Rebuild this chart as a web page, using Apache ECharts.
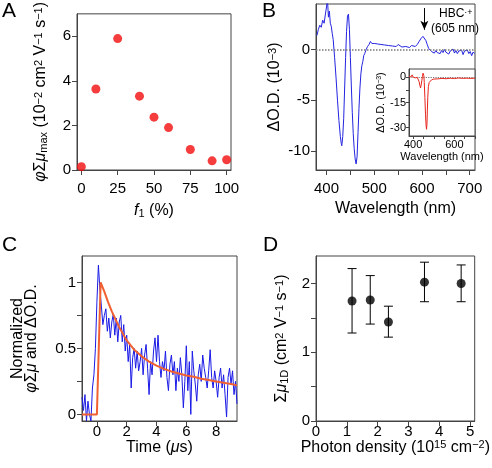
<!DOCTYPE html>
<html><head><meta charset="utf-8">
<script src="https://cdn.jsdelivr.net/npm/echarts@6/dist/echarts.min.js"></script>
<style>html,body{margin:0;padding:0;background:#fff}#c{width:492px;height:468px}</style>
</head><body><div id="c"></div>
<script>
const FONT = '"Liberation Sans", Arial, Helvetica, sans-serif';

// ---- Panel A ----
const aFraction = [0, 10, 25, 40, 50, 60, 75, 90, 100];
const aMobility = [0.15, 3.63, 5.89, 3.31, 2.37, 1.9, 0.92, 0.41, 0.46];
const aXTicks = [0, 25, 50, 75, 100];

// ---- Panel B (main) ----
const bWave = [380,383,386,389,392,395,398,400,402,404,406,408,410,412,414,417,420,423,426,429,431,432,434,436,438,440,442,444,446,448,450,452,454,456,458,460,462,464,466,468,470,472,474,476,478,480,483,486,489,492,495,498,501,504,507,510,514,518,522,526,530,534,538,542,546,550,554,558,562,566,570,574,578,582,586,590,594,598,602,605,608,611,614,617,620,623,626,629,632,635,638,641,644,647,650,653,656,659,662,665,668,671,674,677,680,683,686,689,692,695,698,701,704,707,710];
const bSignal = [1.4,2.0,2.4,2.2,2.9,2.6,3.6,4.2,5.0,3.2,3.8,2.6,2.3,1.6,1.0,-0.8,-2.8,-5.0,-7.0,-8.6,-9.3,-9.5,-8.6,-6.8,-3.8,-0.8,1.8,3.3,3.5,2.0,-0.8,-3.6,-6.2,-8.3,-9.8,-10.8,-11.3,-10.6,-8.2,-5.8,-3.8,-2.4,-1.6,-1.2,-0.6,-0.4,0.0,0.3,0.5,0.8,0.6,0.75,0.6,0.7,0.55,0.65,0.5,0.6,0.45,0.55,0.4,0.5,0.35,0.45,0.3,0.5,0.35,0.25,0.4,0.3,0.35,0.2,0.4,0.35,0.3,0.5,0.8,1.1,1.3,1.2,0.9,0.5,0.1,0.0,-0.2,-0.05,-0.35,-0.1,-0.3,-0.15,-0.4,-0.1,-0.3,0.0,-0.25,-0.1,-0.45,-0.15,-0.3,0.05,-0.35,-0.1,-0.4,-0.15,-0.3,-0.05,-0.5,-0.15,-0.3,-0.05,-0.4,-0.2,-0.6,-0.25,-0.4];
const bXTicks = [400, 450, 500, 550, 600, 650, 700];
const bXLabels = [400, 500, 600, 700];
const bYLabels = [-10, -5, 0];
const peakWave = 605;

// ---- Panel B (inset) ----
const insetWave = [380,385,390,395,400,405,410,415,420,425,429,433,436,439,442,445,448,450,452,454,457,460,463,465,467,469,471,474,478,483,490,500,520,540,560,580,600,620,640,660,680,700];
const insetSignal = [0.5,1.2,0.3,1.5,0.2,1.0,-0.3,0.8,0.0,-1.0,-2.5,-5.0,-6.3,-4.5,-2.0,0.5,2.5,3.2,1.0,-3.0,-12,-22,-29,-31,-28,-20,-12,-5.5,-3.0,-2.0,-1.4,-1.0,-0.9,-0.6,-0.8,-0.5,-0.7,-0.4,-0.6,-0.5,-0.6,-0.5];
const insetXTicks = [400, 450, 500, 550, 600, 650, 700];
const insetXLabels = [400, 600];
const insetYTicks = [0, -7.5, -15, -22.5, -30];
const insetYLabels = [0, -15, -30];

// ---- Panel C ----
const cTime = [-1.0,-0.9,-0.8,-0.7,-0.6,-0.5,-0.4,-0.3,-0.2,-0.1,0.0,0.1,0.2,0.3,0.4,0.5,0.6,0.7,0.8,0.9,1.0,1.1,1.2,1.3,1.4,1.5,1.6,1.7,1.8,1.9,2.0,2.1,2.2,2.3,2.4,2.5,2.6,2.7,2.8,2.9,3.0,3.1,3.2,3.3,3.4,3.5,3.6,3.7,3.8,3.9,4.0,4.1,4.2,4.3,4.4,4.5,4.6,4.7,4.8,4.9,5.0,5.1,5.2,5.3,5.4,5.5,5.6,5.7,5.8,5.9,6.0,6.1,6.2,6.3,6.4,6.5,6.6,6.7,6.8,6.9,7.0,7.1,7.2,7.3,7.4,7.5,7.6,7.7,7.8,7.9,8.0,8.1,8.2,8.3,8.4,8.5,8.6,8.7,8.8,8.9,9.0,9.1,9.2,9.3,9.4];
const cSignal = [0.13,0.03,0.15,-0.05,0.10,0.0,-0.05,0.20,0.30,0.50,0.85,1.13,0.95,0.82,0.68,0.75,0.80,0.63,0.73,0.58,0.70,0.76,0.60,0.73,0.55,0.70,0.75,0.55,0.68,0.48,0.60,0.40,0.53,0.20,0.43,0.50,0.35,0.48,0.33,0.40,0.50,0.30,0.45,0.53,0.35,0.15,0.40,0.30,0.48,0.58,0.40,0.60,0.40,0.28,0.40,0.33,0.48,0.28,0.18,0.38,0.45,0.30,0.40,0.18,0.35,0.25,0.43,0.30,0.05,0.25,0.52,0.18,0.40,0.0,0.48,0.33,0.23,0.10,0.30,0.38,0.25,0.45,0.35,0.28,0.20,0.33,0.49,0.28,0.20,0.33,0.25,0.13,0.28,0.35,0.20,0.30,0.15,-0.02,0.28,0.35,0.23,0.33,0.15,0.25,0.08];
const cFitTime = [-1, 0, 0.25, 0.5, 0.75, 1, 1.25, 1.5, 1.75, 2, 2.5, 3, 3.5, 4, 4.5, 5, 5.5, 6, 6.5, 7, 7.5, 8, 8.5, 9, 9.4];
const cFitValue = [0, 0, 1, 0.93, 0.85, 0.78, 0.72, 0.66, 0.61, 0.56, 0.49, 0.44, 0.40, 0.37, 0.345, 0.325, 0.31, 0.295, 0.285, 0.27, 0.26, 0.25, 0.24, 0.23, 0.22];
const cXTicks = [0, 2, 4, 6, 8];
const cYTicks = [0, 0.25, 0.5, 0.75, 1];
const cYLabels = [0, 0.5, 1];

// ---- Panel D ----
const dPhoton = [1.17, 1.76, 2.35, 3.52, 4.71];
const dMobility = [1.745, 1.76, 1.44, 2.02, 2.0];
const dLow = [1.28, 1.41, 1.22, 1.735, 1.735];
const dHigh = [2.217, 2.115, 1.67, 2.31, 2.27];
const dYTicks = [0, 0.5, 1, 1.5, 2];
const dYLabels = [0, 1, 2];

const AX = '#444';
function rich(fs) {
  return {
    it: {fontStyle: 'italic', fontSize: fs, fontFamily: FONT, color: '#000'},
    sub: {fontSize: Math.round(fs * 0.68), fontFamily: FONT, verticalAlign: 'bottom', color: '#000'},
    sup: {fontSize: Math.round(fs * 0.68), fontFamily: FONT, verticalAlign: 'top', color: '#000'},
    n: {fontSize: fs, fontFamily: FONT, color: '#000'}
  };
}
function axis(gridIndex, min, max, ticks, labels, name, nameGap, fs, nfs, extra) {
  const a = {
    type: 'value', gridIndex: gridIndex, min: min, max: max,
    axisLine: {show: true, onZero: false, lineStyle: {color: AX, width: 1}},
    axisTick: {show: true, inside: false, length: 5, customValues: ticks, lineStyle: {color: AX, width: 1}},
    axisLabel: {show: true, customValues: labels, color: '#000', fontSize: fs, fontFamily: FONT, margin: 6},
    splitLine: {show: false},
    name: name, nameLocation: 'middle', nameGap: nameGap,
    nameTextStyle: {fontSize: nfs, fontFamily: FONT, color: '#000', rich: rich(nfs)}
  };
  if (extra) {
    for (const k in extra) {
      if (typeof extra[k] === 'object' && a[k]) Object.assign(a[k], extra[k]); else a[k] = extra[k];
    }
  }
  return a;
}
const zip = (xs, ys) => xs.map((x, i) => [x, ys[i]]);

const gridBase = {show: true, borderColor: AX, borderWidth: 1, containLabel: false, backgroundColor: 'transparent'};
const chart = echarts.init(document.getElementById('c'), null, {renderer: 'canvas'});
chart.setOption({
  animation: false,
  backgroundColor: '#fff',
  grid: [
    Object.assign({}, gridBase, {left: 77, top: 5, width: 154, height: 165}),
    Object.assign({}, gridBase, {left: 316, top: 4, width: 159, height: 166}),
    Object.assign({}, gridBase, {left: 409, top: 69, width: 66, height: 67, backgroundColor: '#fff', z: 5}),
    Object.assign({}, gridBase, {left: 82, top: 256, width: 155, height: 165}),
    Object.assign({}, gridBase, {left: 316, top: 256, width: 165, height: 165})
  ],
  xAxis: [
    axis(0, -3, 103, aXTicks, aXTicks, '{it|f}{sub|1} (%)', 33, 15, 16, {axisLabel: {margin: 11}}),
    axis(1, 378, 711, bXTicks, bXLabels, 'Wavelength (nm)', 31, 15, 16, {axisLabel: {margin: 11}}),
    axis(2, 380, 700, insetXTicks, insetXLabels, 'Wavelength (nm)', 15, 11, 11, {z: 6, axisTick: {length: 3}, axisLabel: {margin: 3}}),
    axis(3, -1, 9.4, cXTicks, cXTicks, 'Time ({it|μ}s)', 16, 15, 16, {axisLabel: {margin: 3}}),
    axis(4, 0, 5.15, [0, 1, 2, 3, 4, 5], [0, 1, 2, 3, 4, 5], 'Photon density (10{sup|15} cm{sup|−2})', 18, 15, 16, {axisLabel: {margin: 3}})
  ],
  yAxis: [
    axis(0, 0, 7, [0, 2, 4, 6], [0, 2, 4, 6], '{it|φ}Σ{it|μ}{sub|max} (10{sup|−2} cm{sup|2} V{sup|−1} s{sup|−1})', 28, 15, 16),
    axis(1, -11.9, 4.5, bYLabels, bYLabels, 'ΔO.D. (10{sup|−3})', 33, 15, 16),
    axis(2, -35, 5, insetYTicks, insetYLabels, 'ΔO.D. (10{sup|−3})', 22, 11, 11, {z: 6, axisTick: {length: 3}, axisLabel: {margin: 3}}),
    axis(3, -0.05, 1.2, cYTicks, cYLabels, 'Normalized\n{it|φ}Σ{it|μ} and ΔO.D.', 43, 15, 16, {nameTextStyle: {lineHeight: 14}}),
    axis(4, 0, 2.4, dYTicks, dYLabels, 'Σ{it|μ}{sub|1D} (cm{sup|2} V{sup|−1} s{sup|−1})', 26, 15, 16)
  ],
  series: [
    {type: 'scatter', xAxisIndex: 0, yAxisIndex: 0, data: zip(aFraction, aMobility), symbolSize: 9, itemStyle: {color: '#f20d0d'}},
    {type: 'line', xAxisIndex: 1, yAxisIndex: 1, data: zip(bWave, bSignal), showSymbol: false, clip: true,
      lineStyle: {color: '#2323e0', width: 1}, itemStyle: {color: '#2323e0'},
      markLine: {silent: true, symbol: 'none', label: {show: false}, animation: false,
        data: [
          {yAxis: 0, lineStyle: {color: '#777', type: 'dotted', width: 1.5}},
          [{coord: [peakWave, 4.1], symbol: 'none', lineStyle: {color: '#000', type: 'solid', width: 1}},
           {coord: [peakWave, 1.95], symbol: 'arrow', symbolSize: [6, 9]}]
        ]}},
    {type: 'line', xAxisIndex: 2, yAxisIndex: 2, data: zip(insetWave, insetSignal), showSymbol: false, z: 7, clip: true,
      lineStyle: {color: '#e8241c', width: 1}, itemStyle: {color: '#e8241c'},
      markLine: {silent: true, symbol: 'none', label: {show: false}, animation: false,
        data: [{yAxis: 0, lineStyle: {color: '#777', type: 'dotted', width: 1.2}}]}},
    {type: 'line', xAxisIndex: 3, yAxisIndex: 3, data: zip(cTime, cSignal), showSymbol: false, clip: true,
      lineStyle: {color: '#1a1ae6', width: 1}, itemStyle: {color: '#1a1ae6'}},
    {type: 'line', xAxisIndex: 3, yAxisIndex: 3, data: zip(cFitTime, cFitValue), showSymbol: false, clip: true,
      lineStyle: {color: '#f06030', width: 2}, itemStyle: {color: '#f06030'}},
    {type: 'custom', xAxisIndex: 4, yAxisIndex: 4,
      data: dPhoton.map((x, i) => [x, dLow[i], dHigh[i]]),
      renderItem: function (params, api) {
        const x = api.value(0);
        const top = api.coord([x, api.value(2)]);
        const bot = api.coord([x, api.value(1)]);
        const w = 4.5;
        const st = {stroke: '#000', lineWidth: 1};
        return {type: 'group', children: [
          {type: 'line', shape: {x1: top[0], y1: top[1], x2: bot[0], y2: bot[1]}, style: st},
          {type: 'line', shape: {x1: top[0] - w, y1: top[1], x2: top[0] + w, y2: top[1]}, style: st},
          {type: 'line', shape: {x1: bot[0] - w, y1: bot[1], x2: bot[0] + w, y2: bot[1]}, style: st}
        ]};
      }},
    {type: 'scatter', xAxisIndex: 4, yAxisIndex: 4, data: zip(dPhoton, dMobility), symbolSize: 9, itemStyle: {color: '#000'}, z: 4}
  ],
  graphic: [
    {type: 'text', left: 2, top: 1, style: {text: 'A', fontSize: 21, fontFamily: FONT, fill: '#000'}},
    {type: 'text', left: 262, top: 1, style: {text: 'B', fontSize: 21, fontFamily: FONT, fill: '#000'}},
    {type: 'text', left: 2, top: 235, style: {text: 'C', fontSize: 21, fontFamily: FONT, fill: '#000'}},
    {type: 'text', left: 263, top: 235, style: {text: 'D', fontSize: 21, fontFamily: FONT, fill: '#000'}},
    {type: 'text', left: 439, top: 8, style: {text: 'HBC{sup|·+}', fontSize: 12, fontFamily: FONT, fill: '#000',
      rich: {sup: {fontSize: 9, fontFamily: FONT, verticalAlign: 'top', fill: '#000'}}}},
    {type: 'text', left: 431, top: 23, style: {text: '(605 nm)', fontSize: 12, fontFamily: FONT, fill: '#000'}}
  ]
});
</script>
</body></html>
